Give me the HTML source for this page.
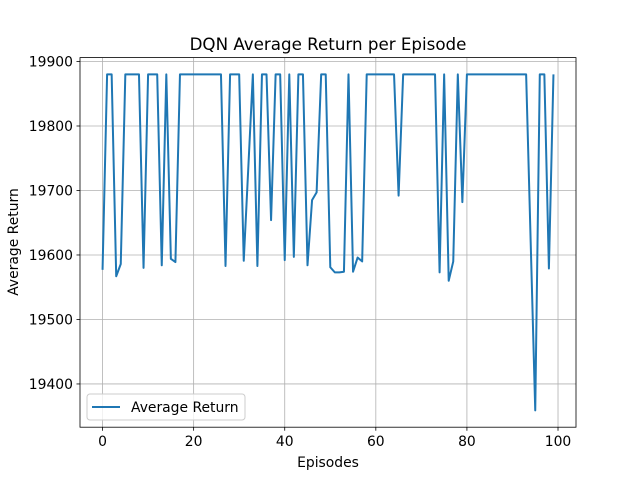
<!DOCTYPE html>
<html><head><meta charset="utf-8"><style>
body{margin:0;background:#fff;font-family:"DejaVu Sans","Liberation Sans",sans-serif;}
</style></head><body>
<svg id="chart" width="640" height="480" xmlns="http://www.w3.org/2000/svg" font-family="DejaVu Sans, Liberation Sans, sans-serif">
<rect width="640" height="480" fill="#fff"/>
<g id="grid"></g>
<g id="ticks"></g>
<g id="plot"></g>
<rect x="80" y="57.6" width="496" height="369.6" fill="none" stroke="#000" stroke-width="0.8"/>
<text x="328" y="50" font-size="16.7" text-anchor="middle">DQN Average Return per Episode</text>
<text x="328" y="467" font-size="13.9" text-anchor="middle">Episodes</text>
<text x="18" y="242" font-size="13.9" text-anchor="middle" transform="rotate(-90 18 242)">Average Return</text>
<g>
<rect x="87" y="394" width="158" height="26" rx="3" fill="#fff" fill-opacity="0.8" stroke="#ccc"/>
<line x1="92" y1="407" x2="120" y2="407" stroke="#1f77b4" stroke-width="2"/>
<text x="131" y="412" font-size="13.9">Average Return</text>
</g>
</svg>
<script>
const episodes=[];for(let i=0;i<100;i++)episodes.push(i);
const returns=[19577,19880,19880,19567,19586,19880,19880,19880,19880,19580,
19880,19880,19880,19584,19880,19594,19589,19880,19880,19880,
19880,19880,19880,19880,19880,19880,19880,19583,19880,19880,
19880,19591,19735,19880,19583,19880,19880,19654,19880,19880,
19592,19880,19597,19880,19880,19584,19685,19697,19880,19880,
19581,19573,19573,19574,19880,19574,19596,19590,19880,19880,
19880,19880,19880,19880,19880,19692,19880,19880,19880,19880,
19880,19880,19880,19880,19573,19880,19560,19590,19880,19682,
19880,19880,19880,19880,19880,19880,19880,19880,19880,19880,
19880,19880,19880,19880,19620,19359,19880,19880,19579,19880];
const xTicks=[0,20,40,60,80,100];
const yTicks=[19400,19500,19600,19700,19800,19900];
const NS="http://www.w3.org/2000/svg";
const L=80,R=576,T=57.6,B=427.2;
const xmin=-4.95,xmax=103.95;
const ylo=Math.min(...returns),yhi=Math.max(...returns),pad=(yhi-ylo)*0.05;
const ymin=ylo-pad,ymax=yhi+pad;
const xs=v=>L+(v-xmin)/(xmax-xmin)*(R-L);
const ys=v=>B-(v-ymin)/(ymax-ymin)*(B-T);
function mk(tag,a,parent){const e=document.createElementNS(NS,tag);for(const k in a)e.setAttribute(k,a[k]);document.getElementById(parent).appendChild(e);return e;}
xTicks.forEach(t=>{const x=xs(t);
const g=mk('line',{x1:x,x2:x,y1:T,y2:B,stroke:'#b0b0b0','stroke-width':0.8},'grid');


mk('line',{x1:x,x2:x,y1:B,y2:B+3.5,stroke:'#000','stroke-width':0.8},'ticks');
const tx=mk('text',{x:x,y:B+19,'font-size':13.9,'text-anchor':'middle'},'ticks');tx.textContent=t;

});
yTicks.forEach(t=>{const y=ys(t);
const g=mk('line',{x1:L,x2:R,y1:y,y2:y,stroke:'#b0b0b0','stroke-width':0.8},'grid');


mk('line',{x1:L-3.5,x2:L,y1:y,y2:y,stroke:'#000','stroke-width':0.8},'ticks');
const tx=mk('text',{x:L-7,y:y+5,'font-size':13.9,'text-anchor':'end'},'ticks');tx.textContent=t;

});
const pts=returns.map((v,i)=>xs(episodes[i]).toFixed(2)+','+ys(v).toFixed(2)).join(' ');
const line=mk('polyline',{points:pts,fill:'none',stroke:'#1f77b4','stroke-width':2,'stroke-linejoin':'round'},'plot');


</script>
</body></html>
